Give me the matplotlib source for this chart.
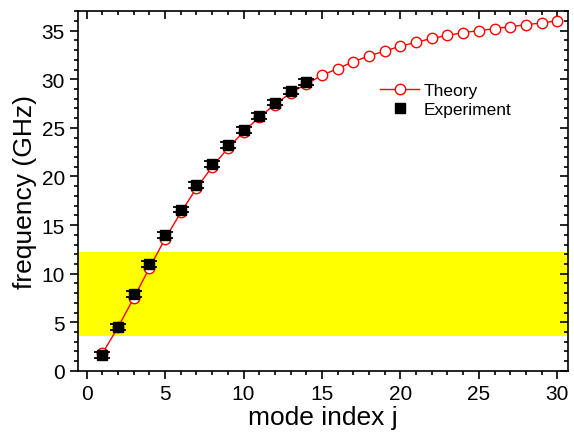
import matplotlib
matplotlib.use("Agg")
import matplotlib.pyplot as plt
from matplotlib.lines import Line2D
from matplotlib.ticker import MultipleLocator

plt.rcParams['font.family'] = ['Liberation Sans', 'DejaVu Sans']

# Theory curve, modes 1..30
mode_theory = list(range(1, 31))
freq_theory = [1.8, 4.5, 7.5, 10.6, 13.6, 16.3, 18.8, 21.0, 22.9, 24.6,
               26.1, 27.4, 28.6, 29.5, 30.4, 31.1, 31.8, 32.4, 32.9, 33.4,
               33.8, 34.2, 34.5, 34.8, 35.0, 35.2, 35.4, 35.6, 35.8, 36.0]

# Measured modes 1..14
mode_exp = list(range(1, 15))
freq_exp = [1.6, 4.5, 7.9, 11.0, 14.0, 16.6, 19.1, 21.3, 23.2, 24.8,
            26.2, 27.6, 28.8, 29.7]
err_exp = [0.3] * 14

# highlighted band (GHz)
band_low, band_high = 3.6, 12.2

fig, ax = plt.subplots(figsize=(5.74, 4.35), dpi=100)

ax.axhspan(band_low, band_high, color='#ffff00', zorder=0, lw=0)

ax.plot(mode_theory, freq_theory, '-o', color='red', mfc='white', mec='red',
        ms=7.5, lw=1, mew=1, zorder=2)
ax.errorbar(mode_exp, freq_exp, yerr=err_exp, fmt='s', color='black',
            ms=6.5, capsize=6, elinewidth=1, capthick=1.3, zorder=3)

ax.set_xlim(-0.55, 30.7)
ax.set_ylim(0, 37)
ax.xaxis.set_major_locator(MultipleLocator(5))
ax.xaxis.set_minor_locator(MultipleLocator(1))
ax.yaxis.set_major_locator(MultipleLocator(5))
ax.yaxis.set_minor_locator(MultipleLocator(1))

ax.tick_params(which='both', direction='out', top=True, right=True,
               labelsize=15, width=1.2)
ax.tick_params(which='major', length=6)
ax.tick_params(which='minor', length=3)
# top/right ticks point inward
for t in ax.xaxis.get_major_ticks() + ax.xaxis.get_minor_ticks():
    t.tick2line.set_marker(3)
for t in ax.yaxis.get_major_ticks() + ax.yaxis.get_minor_ticks():
    t.tick2line.set_marker(0)
for sp in ax.spines.values():
    sp.set_linewidth(1.2)

ax.set_xlabel('mode index j', fontsize=19, labelpad=1)
ax.set_ylabel('frequency (GHz)', fontsize=19, labelpad=3)

handles = [
    Line2D([], [], color='red', marker='o', mfc='white', mec='red', ms=7.5, lw=1),
    Line2D([], [], color='black', marker='s', ls='none', ms=6.5),
]
ax.legend(handles, ['Theory', 'Experiment'], loc='upper left',
          bbox_to_anchor=(0.585, 0.845), frameon=False, fontsize=12.5,
          handlelength=2.2, handletextpad=0.3, labelspacing=0.25)

fig.subplots_adjust(left=0.136, right=0.99, top=0.972, bottom=0.145)
fig.savefig('out.png')
